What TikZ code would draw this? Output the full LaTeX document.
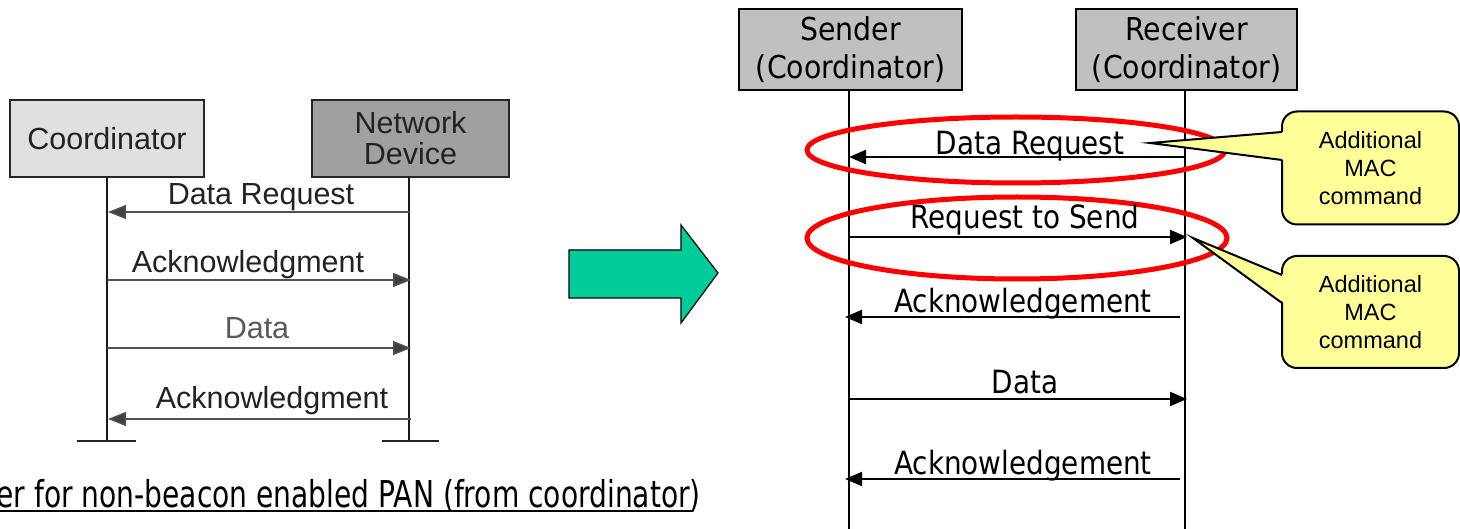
\documentclass[tikz,border=0pt]{standalone}
\usepackage{fontspec}
\setmainfont{Liberation Sans}
\newfontfamily\tahbox[FakeStretch=0.9]{DejaVu Sans}
\newfontfamily\tahlab[FakeStretch=0.87]{DejaVu Sans}
\newfontfamily\tahcap[FakeStretch=0.76]{DejaVu Sans}
\usetikzlibrary{arrows.meta}
\definecolor{boxL}{HTML}{E0E0E0}
\definecolor{boxD}{HTML}{A0A0A0}
\definecolor{boxR}{HTML}{C0C0C0}
\definecolor{arrG}{HTML}{00CC99}
\definecolor{yel}{HTML}{FFFF99}
\definecolor{ink}{HTML}{222222}
\definecolor{lline}{HTML}{505050}
\begin{document}
\begin{tikzpicture}[x=1pt,y=-1pt,
  lbox/.style={draw=black!85, line width=2pt, inner sep=0pt, text=ink,
    font=\fontsize{30.5}{31}\selectfont, align=center},
  rbox/.style={draw=black, line width=2pt, fill=boxR, inner sep=0pt,
    font=\tahbox\fontsize{31.5}{38}\selectfont, align=center},
  llife/.style={draw=black!90, line width=2pt},
  lbar/.style={draw=ink, line width=2pt},
  larr/.style={draw=lline, line width=1.5pt, -{Triangle[length=18pt,width=14pt,fill=black!75]}},
  llbl/.style={anchor=base, text=ink, font=\fontsize{30.5}{31}\selectfont, inner sep=0pt},
  rlife/.style={draw=black, line width=1.5pt},
  rarr/.style={draw=black, line width=2.2pt, -{Triangle[length=17pt,width=14pt]}},
  rlbl/.style={anchor=base, font=\tahlab\fontsize{32}{36}\selectfont, inner sep=0pt},
  ring/.style={draw=red, line width=5pt},
  callbox/.style={draw=black, line width=2pt, fill=yel, rounded corners=15pt,
    minimum width=177pt, inner sep=0pt, align=center,
    font=\fontsize{23.5}{28}\selectfont},
  ptr/.style={draw=black, line width=2pt, line join=miter}
]
\useasboundingbox (0,0) rectangle (1460,529);

% ---------------- left diagram ----------------
\node[lbox, fill=boxL, minimum width=194pt, minimum height=77pt] (coord) at (107,138.5) {Coordinator};
\node[lbox, fill=boxD, minimum width=197pt, minimum height=77pt] (netdev) at (410.5,138.5) {Network\\Device};

\coordinate (cEnd) at (107,441);
\coordinate (nTop) at (409,177);
\coordinate (nEnd) at (409,441);
\draw[llife] (coord.south) -- (cEnd);
\draw[llife] (nTop) -- (nEnd);
\coordinate (cb1) at (77,441); \coordinate (cb2) at (136,441);
\coordinate (nb1) at (382,441); \coordinate (nb2) at (439,441);
\draw[lbar] (cb1) -- (cb2);
\draw[lbar] (nb1) -- (nb2);

\coordinate (l1a) at (409,212); \coordinate (l1b) at (108,212);
\coordinate (l2a) at (107,280); \coordinate (l2b) at (411,280);
\coordinate (l3a) at (107,348); \coordinate (l3b) at (411,348);
\coordinate (l4a) at (411,419); \coordinate (l4b) at (108,419);
\draw[larr] (l1a) -- (l1b);
\draw[larr] (l2a) -- (l2b);
\draw[larr] (l3a) -- (l3b);
\draw[larr] (l4a) -- (l4b);
\node[llbl] (tl1) at (261,205) {Data Request};
\node[llbl] (tl2) at (248,273) {Acknowledgment};
\node[llbl, text=black!65] (tl3) at (257,339) {Data};
\node[llbl] (tl4) at (272,408) {Acknowledgment};

% caption
\node[anchor=base east, inner sep=0pt, font=\tahcap\fontsize{37}{40}\selectfont] (cap) at (701,507)
  {er for non-beacon enabled PAN (from coordinator)};
\coordinate (u1) at (0,511); \coordinate (u2) at (693,511);
\draw[line width=2pt] (u1) -- (u2);

% ---------------- big arrow ----------------
\draw[fill=arrG, draw=black, line width=1.2pt, line join=miter]
  (569,250) -- (681,250) -- (681,225) -- (718,273) -- (681,323) -- (681,298) -- (569,298) -- cycle;

% ---------------- right diagram ----------------
\node[rbox, minimum width=223pt, minimum height=81pt] (send) at (850.5,49.5) {Sender\\(Coordinator)};
\node[rbox, minimum width=221pt, minimum height=81pt] (recv) at (1186.5,49.5) {Receiver\\(Coordinator)};

\coordinate (sTop) at (849,90); \coordinate (sEnd) at (849,529);
\coordinate (rTop) at (1185,90); \coordinate (rEnd) at (1185,529);
\draw[rlife] (sTop) -- (sEnd);
\draw[rlife] (rTop) -- (rEnd);

% red rings
\draw[ring] (1016,150) ellipse [x radius=209pt, y radius=33pt];
\draw[ring] (1017,238) ellipse [x radius=210pt, y radius=41pt];

\coordinate (r1a) at (1185,157); \coordinate (r1b) at (849,157);
\coordinate (r2a) at (849,237);  \coordinate (r2b) at (1187,237);
\coordinate (r3a) at (1180,317); \coordinate (r3b) at (845,317);
\coordinate (r4a) at (849,399);  \coordinate (r4b) at (1187,399);
\coordinate (r5a) at (1180,479); \coordinate (r5b) at (845,479);
\draw[rarr] (r1a) -- (r1b);
\draw[rarr] (r2a) -- (r2b);
\draw[rarr] (r3a) -- (r3b);
\draw[rarr] (r4a) -- (r4b);
\draw[rarr] (r5a) -- (r5b);
\node[rlbl] (tr1) at (1030,155) {Data Request};
\node[rlbl] (tr2) at (1025,229) {Request to Send};
\node[rlbl] (tr3) at (1023,313) {Acknowledgement};
\node[rlbl] (tr4) at (1025,393) {Data};
\node[rlbl] (tr5) at (1023,474) {Acknowledgement};

% callouts
\node[callbox, minimum height=113pt] (c1) at (1370.5,168) {Additional\\MAC\\command};
\node[callbox, minimum height=112pt] (c2) at (1370.5,312) {Additional\\MAC\\command};

\coordinate (p1tip) at (1150,143);
\coordinate (p1a) at (1282,132); \coordinate (p1b) at (1282,160);
\coordinate (p1ai) at (1284.5,132); \coordinate (p1bi) at (1284.5,160);
\fill[yel] (p1tip) -- (p1ai) -- (p1bi) -- cycle;
\draw[ptr] (p1a) -- (p1tip) -- (p1b);

\coordinate (p2tip) at (1193,238);
\coordinate (p2a) at (1282,275); \coordinate (p2b) at (1282,303);
\coordinate (p2ai) at (1284.5,275); \coordinate (p2bi) at (1284.5,303);
\fill[yel] (p2tip) -- (p2ai) -- (p2bi) -- cycle;
\draw[ptr] (p2a) -- (p2tip) -- (p2b);
\end{tikzpicture}
\end{document}
